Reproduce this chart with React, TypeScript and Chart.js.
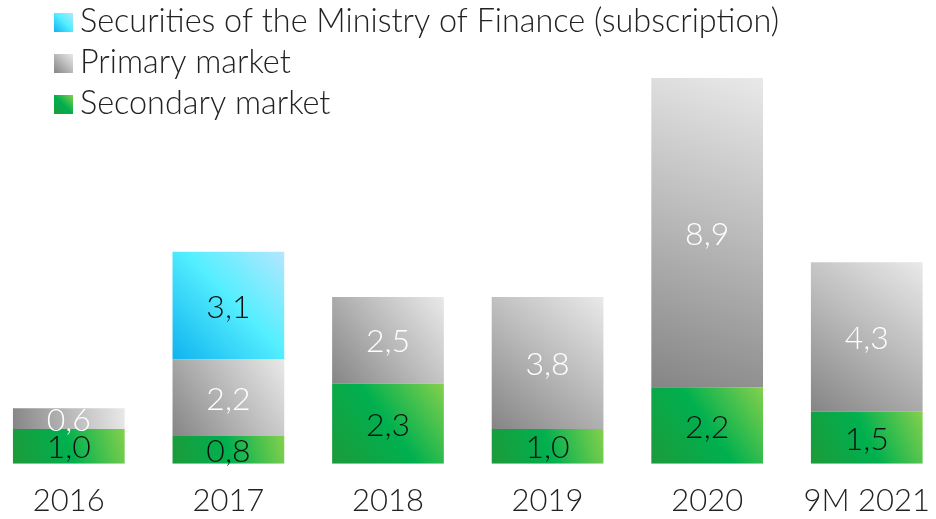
import React, { useEffect, useRef } from "react";
import { Chart, registerables } from "chart.js";

Chart.register(...registerables);

const categories = ["2016", "2017", "2018", "2019", "2020", "9M 2021"];
const secondaryMarket = [1.0, 0.8, 2.3, 1.0, 2.2, 1.5];
const primaryMarket = [0.6, 2.2, 2.5, 3.8, 8.9, 4.3];
const ministrySecurities = [0, 3.1, 0, 0, 0, 0];

const seriesLabels = [
  "Secondary market",
  "Primary market",
  "Securities of the Ministry of Finance (subscription)",
];

const FONT = "Lato, 'Open Sans', sans-serif";
const BAR_PCT = 0.7;
const SHIFT = 11; // canvas is shifted left so the category slots match the reference

type Stop = [number, string];
const greenStops: Stop[] = [[0, "#1d9a3a"], [0.5, "#00b04f"], [1, "#84d04c"]];
const grayStops: Stop[] = [[0, "#858585"], [0.55, "#bdbdbd"], [1, "#e9e9e9"]];
const cyanStops: Stop[] = [[0, "#0fb3ef"], [0.55, "#55efff"], [1, "#b4e6ff"]];
const stopsList = [greenStops, grayStops, cyanStops];
const labelColors = ["#111111", "#ffffff", "#111111"];
const seriesData = [secondaryMarket, primaryMarket, ministrySecurities];

function grad(ctx: CanvasRenderingContext2D, x0: number, y0: number, x1: number, y1: number, stops: Stop[]) {
  const g = ctx.createLinearGradient(x0, y0, x1, y1);
  stops.forEach(([o, c]) => g.addColorStop(o, c));
  return g;
}

function barColor(dsIndex: number) {
  return (c: any) => {
    const chart = c.chart;
    const stops = stopsList[dsIndex];
    const xs = chart.scales?.x;
    const ys = chart.scales?.y;
    if (!chart.chartArea || !xs || !ys || c.type !== "data") return stops[1][1];
    const i = c.dataIndex;
    let start = 0;
    for (let d = 0; d < dsIndex; d++) start += seriesData[d][i] || 0;
    const end = start + (seriesData[dsIndex][i] || 0);
    const cx = xs.getPixelForValue(i);
    const w = (xs.width / categories.length) * BAR_PCT;
    const top = ys.getPixelForValue(end);
    const bottom = ys.getPixelForValue(start);
    return grad(chart.ctx, cx - w / 2, bottom, cx + w / 2, top, stops);
  };
}

const fmt = (v: number) => v.toFixed(1).replace(".", ",");

const valueLabels = {
  id: "valueLabels",
  afterDatasetsDraw(chart: any) {
    const ctx = chart.ctx;
    ctx.save();
    ctx.font = `300 32px ${FONT}`;
    ctx.textAlign = "center";
    ctx.textBaseline = "alphabetic";
    chart.data.datasets.forEach((ds: any, di: number) => {
      const meta = chart.getDatasetMeta(di);
      meta.data.forEach((el: any, i: number) => {
        const v = ds.data[i];
        if (!v) return;
        ctx.fillStyle = labelColors[di];
        ctx.fillText(fmt(v), el.x, (el.y + el.base) / 2 + 12);
      });
    });
    ctx.restore();
  },
};

const customLegend = {
  id: "customLegend",
  afterDraw(chart: any) {
    const ctx = chart.ctx;
    ctx.save();
    ctx.font = `300 32.4px ${FONT}`;
    ctx.textAlign = "left";
    ctx.textBaseline = "alphabetic";
    const order = [2, 1, 0];
    order.forEach((di, row) => {
      const base = 32 + row * 41;
      const bx = 54 + SHIFT, size = 19;
      ctx.fillStyle = grad(ctx, bx, base, bx + size, base - size, stopsList[di]);
      ctx.fillRect(bx, base - size, size, size);
      ctx.fillStyle = "#222222";
      ctx.fillText(chart.data.datasets[di].label, 80 + SHIFT, base);
    });
    ctx.restore();
  },
};

export default function App() {
  const ref = useRef<HTMLCanvasElement | null>(null);
  useEffect(() => {
    document.body.style.margin = "0";
    if (!ref.current) return;
    const chart = new Chart(ref.current, {
      type: "bar",
      data: {
        labels: categories,
        datasets: seriesData.map((d, di) => ({
          label: seriesLabels[di],
          data: d,
          backgroundColor: barColor(di),
          borderWidth: 0,
          barPercentage: BAR_PCT,
          categoryPercentage: 1,
        })),
      },
      options: {
        animation: false,
        responsive: false,
        layout: { padding: { left: 0, right: 0, top: 78, bottom: 0 } },
        plugins: { legend: { display: false }, tooltip: { enabled: false } },
        scales: {
          x: {
            stacked: true,
            grid: { display: false, drawTicks: false },
            border: { display: false },
            ticks: { color: "#222222", font: { family: FONT, size: 31, weight: "300" as any }, padding: 19 },
          },
          y: { stacked: true, display: false, min: 0, max: 11.1 },
        },
      },
      plugins: [valueLabels, customLegend],
    });
    return () => chart.destroy();
  }, []);
  return (
    <div style={{ position: "relative", width: 936, height: 519, overflow: "hidden" }}>
      <canvas
        ref={ref}
        width={960}
        height={539}
        style={{ display: "block", position: "absolute", left: -SHIFT, top: 0 }}
      />
    </div>
  );
}
